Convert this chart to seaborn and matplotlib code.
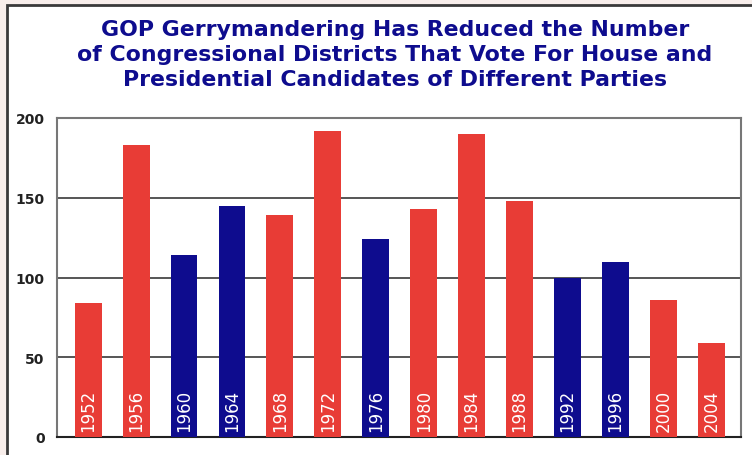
import matplotlib
matplotlib.use("Agg")
import matplotlib.pyplot as plt
import seaborn as sns
import pandas as pd
from matplotlib.patches import Rectangle

# data
years = ["1952", "1956", "1960", "1964", "1968", "1972", "1976",
         "1980", "1984", "1988", "1992", "1996", "2000", "2004"]
split_districts = [84, 183, 114, 145, 139, 192, 124, 143, 190, 148, 100, 110, 86, 59]
party = ["R", "R", "D", "D", "R", "R", "D", "R", "R", "R", "D", "D", "R", "R"]

RED = "#e83c36"
NAVY = "#0e0c8e"

df = pd.DataFrame({"year": years, "n": split_districts, "party": party})

sns.set_style("white")
plt.rcParams["font.family"] = ["DejaVu Sans"]

fig = plt.figure(figsize=(7.52, 4.56), dpi=100)
fig.patch.set_facecolor("#f8eeeb")
# white panel with dark frame, behind everything
fig.patches.append(Rectangle((7 / 752, -0.2), 1.2, 1.2 - 6 / 456,
                             transform=fig.transFigure, facecolor="white",
                             edgecolor="#3a3a3a", linewidth=2, zorder=-10))

ax = fig.add_axes([57 / 752, 1 - 438 / 456, (741 - 57) / 752, (438 - 119) / 456])
ax.set_facecolor("white")

sns.barplot(data=df, x="year", y="n", hue="party", palette={"R": RED, "D": NAVY},
            dodge=False, width=0.56, legend=False, saturation=1, linewidth=0,
            ax=ax, zorder=3)

for i, y in enumerate(years):
    ax.text(i, 4, y, rotation=90, ha="center", va="bottom", color="white",
            fontsize=12, zorder=4)

ax.set_ylim(0, 200)
ax.set_xlim(-0.65, 13.62)
ax.set_yticks([0, 50, 100, 150, 200])
ax.set_xticks([])
ax.set_xlabel("")
ax.set_ylabel("")
ax.tick_params(axis="y", length=0, pad=9, labelsize=10, labelcolor="#222222")
for lab in ax.get_yticklabels():
    lab.set_fontweight("bold")
for yv in [50, 100, 150]:
    ax.axhline(yv, color="#555555", lw=1.4, zorder=1)
for s in ["left", "top", "right"]:
    ax.spines[s].set_color("#777777")
    ax.spines[s].set_linewidth(1.5)
ax.spines["bottom"].set_color("#222222")
ax.spines["bottom"].set_linewidth(1.5)

fig.text(0.525, 1 - 20 / 456,
         "GOP Gerrymandering Has Reduced the Number\n"
         "of Congressional Districts That Vote For House and\n"
         "Presidential Candidates of Different Parties",
         ha="center", va="top", color=NAVY, fontsize=15.8, fontweight="bold",
         linespacing=1.3)

fig.savefig("out.png", dpi=100, facecolor=fig.get_facecolor())
